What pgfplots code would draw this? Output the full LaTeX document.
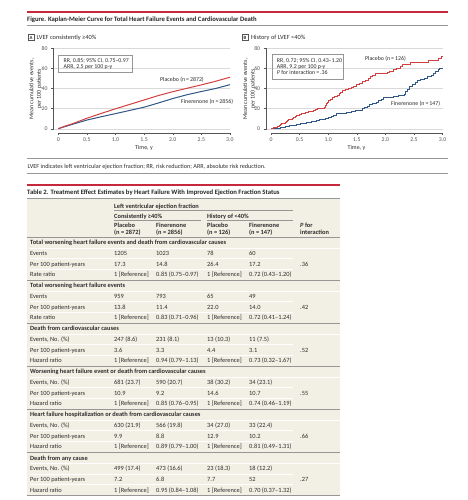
\documentclass[border=0pt]{standalone}
\usepackage{fontspec}
\setmainfont{Carlito}
\usepackage{pgfplots}
\pgfplotsset{compat=1.18}
\definecolor{jred}{RGB}{200,40,60}
\definecolor{cred}{RGB}{212,62,62}
\definecolor{cblue}{RGB}{48,86,134}
\definecolor{beige}{RGB}{242,239,228}
\definecolor{txt}{RGB}{45,45,45}
\definecolor{rulec}{RGB}{150,150,150}
\definecolor{tickc}{RGB}{85,85,85}
\newcommand\fs{\fontsize{6.4}{7.5}\selectfont}
\newcommand\fss{\fontsize{5.9}{6.8}\selectfont}
\newcommand\T[3]{\node[anchor=base west,inner sep=0pt,text=txt,font=\fs] at (#1,#2+2.1) {#3};}
\newcommand\TB[3]{\node[anchor=base west,inner sep=0pt,text=txt,font=\fs\bfseries] at (#1,#2+2.1) {#3};}
\newcommand\R[5]{\T{30}{#1}{#2}\T{114}{#1}{#3}\T{156}{#1}{#4}\T{207}{#1}{#5}}
\newcommand\RR[6]{\R{#1}{#2}{#3}{#4}{#5}\T{249}{#1}{#6}}
\newcommand\Sec[1]{%
 \draw[white,line width=0.6pt] (30,#1+5.4) -- (340,#1+5.4);
 \draw[white,line width=0.6pt] (30,#1+16.1) -- (293,#1+16.1);
 \draw[white,line width=0.6pt] (30,#1+26.8) -- (293,#1+26.8);
 \draw[rulec,line width=0.9pt] (27,#1+37.6) -- (340,#1+37.6);}
\pgfplotsset{km/.style={
  x=57.2bp, y=1.005bp,
  xmin=-0.09, xmax=3.0, ymin=-4, ymax=80,
  axis line style={draw=none},
  xtick={0,0.5,1,1.5,2,2.5,3}, xticklabels={0,0.5,1.0,1.5,2.0,2.5,3.0},
  ytick={0,20,40,60,80},
  xtick pos=bottom, ytick pos=left,
  tick align=outside, major tick length=2.2bp,
  tick style={tickc, line width=0.4pt},
  ymajorgrids, grid style={black!15, line width=0.4pt},
  ticklabel style={font=\fontsize{5.8}{6.5}\selectfont, text=tickc},
  xticklabel style={yshift=0.5bp},
  /pgf/number format/assume math mode=true,
  clip=false,
}}
\begin{document}
\begin{tikzpicture}
\useasboundingbox (0,0) rectangle (468bp,-500bp);
\fill[white] (0,0) rectangle (468bp,-500bp);
% ---------- Panel A ----------
\begin{axis}[km, at={(58.3bp,-128.7bp)}, anchor=origin]
\draw[tickc, line width=0.4pt] (axis cs:-0.09,-1) -- (axis cs:-0.09,80);
\draw[tickc, line width=0.4pt] (axis cs:0,-4) -- (axis cs:3,-4);
\addplot[cblue, line width=1pt] coordinates {(0,0) (0.1,1.8) (0.25,4.4) (0.5,8.6) (0.75,11.9) (1.0,15.0) (1.25,18.2) (1.5,21.4) (1.75,25.6) (2.0,30.0) (2.25,33.8) (2.5,37.0) (2.75,40.0) (3.0,43.8)};
\addplot[cred, line width=1pt] coordinates {(0,0) (0.1,2.2) (0.25,5.0) (0.5,10.4) (0.75,15.2) (1.0,19.8) (1.25,24.2) (1.5,28.6) (1.75,33.0) (2.0,36.8) (2.25,40.2) (2.5,43.6) (2.75,47.2) (3.0,51.2)};
\end{axis}
% ---------- Panel B ----------
\begin{axis}[km, at={(271bp,-128.7bp)}, anchor=origin]
\draw[tickc, line width=0.4pt] (axis cs:-0.09,-1) -- (axis cs:-0.09,80);
\draw[tickc, line width=0.4pt] (axis cs:0,-4) -- (axis cs:3,-4);
\addplot[cblue, line width=1pt, const plot] coordinates {(0,0) (0.08,0.7) (0.16,1.4) (0.25,2.0) (0.33,2.7) (0.40,3.4) (0.45,4.1) (0.52,4.8) (0.58,5.4) (0.62,6.1) (0.70,6.8) (0.75,7.5) (0.80,8.2) (0.84,8.8) (0.90,9.5) (0.95,10.2) (1.00,10.9) (1.05,12.2) (1.10,13.6) (1.15,15.0) (1.25,15.6) (1.32,16.3) (1.40,17.0) (1.48,17.7) (1.55,18.4) (1.60,19.7) (1.64,21.1) (1.68,22.4) (1.73,23.8) (1.78,25.2) (1.84,26.5) (1.88,27.9) (1.93,29.3) (1.97,30.6) (2.03,31.3) (2.15,32.0) (2.23,32.7) (2.33,34.0) (2.36,36.7) (2.38,39.5) (2.42,42.2) (2.47,44.2) (2.52,45.6) (2.56,47.6) (2.62,49.0) (2.68,50.3) (2.74,51.7) (2.80,53.1) (2.84,55.1) (2.88,57.1) (2.92,58.5) (2.95,59.9) (3.0,59.9)};
\addplot[cred, line width=1pt, const plot] coordinates {(0,0) (0.04,0.8) (0.08,1.6) (0.11,2.4) (0.14,3.2) (0.17,4.0) (0.19,4.8) (0.22,5.6) (0.25,6.3) (0.27,7.1) (0.29,7.9) (0.31,8.7) (0.34,9.5) (0.37,10.3) (0.39,11.1) (0.42,11.9) (0.44,12.7) (0.47,13.5) (0.50,14.3) (0.54,15.1) (0.60,15.9) (0.66,16.7) (0.70,17.5) (0.74,18.3) (0.78,19.0) (0.82,19.8) (0.86,20.6) (0.93,21.4) (0.95,23.0) (0.97,24.6) (0.99,26.2) (1.01,27.8) (1.04,29.4) (1.07,31.0) (1.11,32.5) (1.16,33.3) (1.19,34.9) (1.22,36.5) (1.25,38.1) (1.30,38.9) (1.36,39.7) (1.40,41.3) (1.45,42.1) (1.50,43.7) (1.55,45.2) (1.60,46.8) (1.66,48.4) (1.70,50.0) (1.74,51.6) (1.78,53.2) (1.82,54.8) (2.03,55.6) (2.08,57.2) (2.15,58.7) (2.20,60.3) (2.26,61.9) (2.30,63.5) (2.40,64.3) (2.44,65.9) (2.76,67.5) (2.82,68.3) (2.93,69.8) (2.98,71.4) (3.0,71.4)};
\end{axis}
\begin{scope}[x=1bp,y=-1bp]
% figure header
\draw[jred, line width=1.3pt] (27,12) -- (448,12);
\node[anchor=base west,inner sep=0pt,text=black!85,font=\fontsize{6.7}{7.5}\selectfont\bfseries] at (27,21.2) {Figure. Kaplan-Meier Curve for Total Heart Failure Events and Cardiovascular Death};
\draw[rulec, line width=0.7pt] (27,25.3) -- (448,25.3);
% panel labels
\draw[tickc, line width=0.4pt] (28,34.5) rectangle (34,40.5);
\node[font=\fontsize{4.8}{5}\selectfont\bfseries, text=txt, inner sep=0] at (31,37.6) {A};
\node[anchor=base west,inner sep=0pt,text=txt,font=\fs] at (36.5,39.8) {LVEF consistently ≥40\%};
\draw[tickc, line width=0.4pt] (242,34.5) rectangle (248,40.5);
\node[font=\fontsize{4.8}{5}\selectfont\bfseries, text=txt, inner sep=0] at (245,37.6) {B};
\node[anchor=base west,inner sep=0pt,text=txt,font=\fs] at (251,39.8) {History of LVEF <40\%};
% y labels
\node[rotate=90, align=center, text=txt, font=\fontsize{6}{7.6}\selectfont, inner sep=0] at (35.5,89) {Mean cumulative events,\\per 100 patients};
\node[rotate=90, align=center, text=txt, font=\fontsize{6}{7.6}\selectfont, inner sep=0] at (249.2,89) {Mean cumulative events,\\per 100 patients};
% x labels
\node[text=txt, font=\fontsize{6}{7}\selectfont, inner sep=0, anchor=base] at (144,149.2) {Time, y};
\node[text=txt, font=\fontsize{6}{7}\selectfont, inner sep=0, anchor=base] at (356.5,149.2) {Time, y};
% boxes
\draw[rulec, line width=0.5pt] (58,55) rectangle (132,72);
\node[anchor=base west,inner sep=0pt,text=txt,font=\fss] at (63.5,62.6) {RR, 0.85; 95\% CI, 0.75--0.97};
\node[anchor=base west,inner sep=0pt,text=txt,font=\fss] at (63.5,68.6) {ARR, 2.5 per 100 p-y};
\draw[rulec, line width=0.5pt] (272.7,54) rectangle (343,79);
\node[anchor=base west,inner sep=0pt,text=txt,font=\fss] at (276.7,62) {RR, 0.72; 95\% CI, 0.43--1.20};
\node[anchor=base west,inner sep=0pt,text=txt,font=\fss] at (276.7,68) {ARR, 9.2 per 100 p-y};
\node[anchor=base west,inner sep=0pt,text=txt,font=\fss] at (276.7,74.7) {\textit{P} for interaction\,=\,.36};
% curve labels
\node[anchor=base west,inner sep=0pt,text=txt,font=\fss] at (160,81) {Placebo (n\,=\,2872)};
\node[anchor=base west,inner sep=0pt,text=txt,font=\fss] at (181,103) {Finerenone (n\,=\,2856)};
\node[anchor=base west,inner sep=0pt,text=txt,font=\fss] at (365,60) {Placebo (n\,=\,126)};
\node[anchor=base west,inner sep=0pt,text=txt,font=\fss] at (391,105) {Finerenone (n\,=\,147)};
% footnote
\draw[rulec, line width=0.7pt] (27,158.3) -- (448,158.3);
\node[anchor=base west,inner sep=0pt,text=txt,font=\fontsize{6.2}{7}\selectfont] at (27.5,168.2) {LVEF indicates left ventricular ejection fraction; RR, risk reduction; ARR, absolute risk reduction.};
\draw[rulec, line width=0.7pt] (27,173.3) -- (448,173.3);
% ---------- Table ----------
\draw[jred, line width=1.3pt] (27,185) -- (340,185);
\node[anchor=base west,inner sep=0pt,text=black!85,font=\fontsize{6.7}{7.5}\selectfont\bfseries] at (27,194.2) {Table 2. Treatment Effect Estimates by Heart Failure With Improved Ejection Fraction Status};
\fill[beige] (27,198.3) rectangle (340,496);
\draw[rulec, line width=0.7pt] (27,198.3) -- (340,198.3);
\TB{114}{206}{Left ventricular ejection fraction}
\draw[rulec, line width=0.6pt] (114,210.7) -- (293,210.7);
\TB{114}{216}{Consistently ≥40\%}
\TB{207}{216}{History of <40\%}
\draw[rulec, line width=0.6pt] (114,220.7) -- (201,220.7);
\draw[rulec, line width=0.6pt] (207,220.7) -- (293,220.7);
\TB{114}{225.7}{Placebo}\TB{114}{232.7}{(n = 2872)}
\TB{156}{225.7}{Finerenone}\TB{156}{232.7}{(n = 2856)}
\TB{207}{225.7}{Placebo}\TB{207}{232.7}{(n = 126)}
\TB{249}{225.7}{Finerenone}\TB{249}{232.7}{(n = 147)}
\TB{300}{225.7}{\textit{P} for}\TB{300}{232.7}{interaction}
\draw[rulec, line width=0.9pt] (27,237.4) -- (340,237.4);
% sections
\Sec{242.6}
\TB{30}{242.6}{Total worsening heart failure events and death from cardiovascular causes}
\RR{253.3}{Events}{1205}{1023}{78}{60}
\RR{264.0}{Per 100 patient-years}{17.3}{14.8}{26.4}{17.2}
\RR{274.7}{Rate ratio}{1 [Reference]}{0.85 (0.75--0.97)}{1 [Reference]}{0.72 (0.43--1.20)}
\T{300}{264.0}{.36}
\Sec{285.6}
\TB{30}{285.6}{Total worsening heart failure events}
\RR{296.3}{Events}{959}{793}{65}{49}
\RR{307.0}{Per 100 patient-years}{13.8}{11.4}{22.0}{14.0}
\RR{317.7}{Rate ratio}{1 [Reference]}{0.83 (0.71--0.96)}{1 [Reference]}{0.72 (0.41--1.24)}
\T{300}{307.0}{.42}
\Sec{328.6}
\TB{30}{328.6}{Death from cardiovascular causes}
\RR{339.3}{Events, No. (\%)}{247 (8.6)}{231 (8.1)}{13 (10.3)}{11 (7.5)}
\RR{350.1}{Per 100 patient-years}{3.6}{3.3}{4.4}{3.1}
\RR{360.8}{Hazard ratio}{1 [Reference]}{0.94 (0.79--1.13)}{1 [Reference]}{0.73 (0.32--1.67)}
\T{300}{350.1}{.52}
\Sec{371.6}
\TB{30}{371.6}{Worsening heart failure event or death from cardiovascular causes}
\RR{382.3}{Events, No. (\%)}{681 (23.7)}{590 (20.7)}{38 (30.2)}{34 (23.1)}
\RR{393.1}{Per 100 patient-years}{10.9}{9.2}{14.6}{10.7}
\RR{403.8}{Hazard ratio}{1 [Reference]}{0.85 (0.76--0.95)}{1 [Reference]}{0.74 (0.46--1.19)}
\T{300}{393.1}{.55}
\Sec{414.6}
\TB{30}{414.6}{Heart failure hospitalization or death from cardiovascular causes}
\RR{425.3}{Events, No. (\%)}{630 (21.9)}{566 (19.8)}{34 (27.0)}{33 (22.4)}
\RR{436.1}{Per 100 patient-years}{9.9}{8.8}{12.9}{10.2}
\RR{446.8}{Hazard ratio}{1 [Reference]}{0.89 (0.79--1.00)}{1 [Reference]}{0.81 (0.49--1.31)}
\T{300}{436.1}{.66}
\Sec{457.9}
\TB{30}{457.9}{Death from any cause}
\RR{468.6}{Events, No. (\%)}{499 (17.4)}{473 (16.6)}{23 (18.3)}{18 (12.2)}
\RR{479.4}{Per 100 patient-years}{7.2}{6.8}{7.7}{52}
\RR{490.1}{Hazard ratio}{1 [Reference]}{0.95 (0.84--1.08)}{1 [Reference]}{0.70 (0.37--1.32)}
\T{300}{479.4}{.27}
\end{scope}
\end{tikzpicture}
\end{document}
